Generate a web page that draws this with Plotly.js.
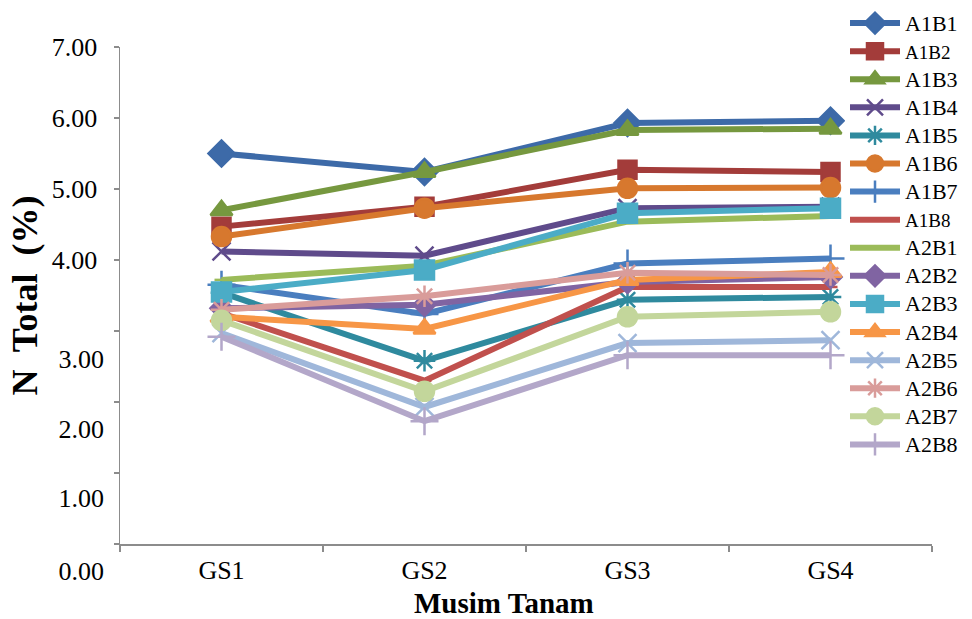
<!DOCTYPE html>
<html>
<head>
<meta charset="utf-8">
<script src="https://cdn.plot.ly/plotly-3.0.1.min.js"></script>
<style>html,body{margin:0;padding:0;background:#fff;}#chart{width:972px;height:619px;}</style>
</head>
<body>
<div id="chart"></div>
<script>
// ---- data ----
const categories = ['GS1', 'GS2', 'GS3', 'GS4'];
const A1B1 = [5.50, 5.24, 5.93, 5.96];
const A1B2 = [4.47, 4.75, 5.27, 5.24];
const A1B3 = [4.70, 5.24, 5.83, 5.85];
const A1B4 = [4.12, 4.06, 4.73, 4.75];
const A1B5 = [3.54, 2.58, 3.44, 3.48];
const A1B6 = [4.33, 4.73, 5.01, 5.02];
const A1B7 = [3.65, 3.24, 3.95, 4.02];
const A1B8 = [3.25, 2.30, 3.62, 3.62];
const A2B1 = [3.72, 3.92, 4.54, 4.62];
const A2B2 = [3.32, 3.37, 3.69, 3.76];
const A2B3 = [3.55, 3.86, 4.66, 4.73];
const A2B4 = [3.20, 3.03, 3.72, 3.83];
const A2B5 = [2.97, 1.93, 2.83, 2.87];
const A2B6 = [3.30, 3.49, 3.82, 3.79];
const A2B7 = [3.15, 2.15, 3.20, 3.27];
const A2B8 = [2.92, 1.73, 2.66, 2.66];
const seriesNames = ['A1B1','A1B2','A1B3','A1B4','A1B5','A1B6','A1B7','A1B8',
                     'A2B1','A2B2','A2B3','A2B4','A2B5','A2B6','A2B7','A2B8'];
const seriesValues = [A1B1,A1B2,A1B3,A1B4,A1B5,A1B6,A1B7,A1B8,
                      A2B1,A2B2,A2B3,A2B4,A2B5,A2B6,A2B7,A2B8];
const yTickVals = [0, 1, 2, 3, 4, 5, 6, 7];
const yTickTextUpper = ['', '', '', '', '4.00', '5.00', '6.00', '7.00'];
const yTickTextLower = ['3.00', '2.00', '1.00', '0.00'];

// ---- styles ----
const colors = ['#3d6aa8','#a33c3a','#76983f','#5f4b8b','#2f8a9e','#d7782e','#4a7ebf','#c0504d',
                '#9bbb59','#8064a2','#4bacc6','#f79646','#9fb7da','#d99c9a','#c3d69b','#b3a7c9'];
const symbols = ['diamond','square','triangle-up','x-thin','asterisk','circle','cross-thin','line-ew',
                 'line-ew','diamond','square','triangle-up','x-thin','asterisk','circle','cross-thin'];
const sizes = [20,18,19,18,18,19,20,10, 10,17,19,19,18,18,19,20];
const legendTextSizes = [22,19,22,22,22,22,22,19, 22,22,22,22,22,22,22,22];

const FONT = '"Liberation Serif", "Times New Roman", Times, serif';

const traces = seriesNames.map((name, i) => ({
  type: 'scatter',
  mode: 'lines+markers',
  name: '<span style="font-size:' + legendTextSizes[i] + 'px">' + name + '</span>',
  x: categories,
  y: seriesValues[i],
  line: {color: colors[i], width: 6},
  marker: {symbol: symbols[i], size: sizes[i], color: colors[i],
           line: {color: colors[i], width: 2.5}},
  xaxis: 'x', yaxis: 'y'
}));
// carrier for the lower tick labels axis
traces.push({type: 'scatter', x: [], y: [], xaxis: 'x', yaxis: 'y2', showlegend: false, hoverinfo: 'skip'});

// pixel frame
const H = 619;
const areaTop = 4, areaBottom = 600;           // plotting area incl. legend room
const axisTop = 47, axisBottom = 544;          // y axis 7.00 ... 0.00
const areaH = areaBottom - areaTop;
const frac = p => (areaBottom - p) / areaH;
const pxPerUnit = (axisBottom - axisTop) / 7;
// label positions of the lower ticks as they appear in the reference (shifted down)
const lowerLabelPx = [359, 429, 497.5, 571];
const lowerTickVals = lowerLabelPx.map(p => 7 - (p - axisTop) / pxPerUnit);

const layout = {
  width: 972, height: H,
  margin: {l: 120, r: 40, t: areaTop, b: H - areaBottom},
  paper_bgcolor: '#ffffff',
  plot_bgcolor: 'rgba(0,0,0,0)',
  font: {family: FONT, color: '#000'},
  showlegend: true,
  legend: {
    x: (845 - 120) / 812, y: 1,
    xanchor: 'left', yanchor: 'top',
    bgcolor: '#ffffff', borderwidth: 0,
    font: {family: FONT, size: 19.3, color: '#000'},
    itemwidth: 50, tracegroupgap: 0
  },
  xaxis: {
    type: 'category', range: [-0.5, 3.5], anchor: 'y',
    tickson: 'boundaries', ticks: 'outside', ticklen: 6, tickcolor: '#8c8c8c', tickwidth: 1.5,
    showline: true, linecolor: '#8c8c8c', linewidth: 1.5,
    showgrid: false, zeroline: false,
    tickfont: {family: FONT, size: 26, color: '#000'},
    ticklabelstandoff: 2
  },
  yaxis: {
    range: [0, 7], domain: [frac(axisBottom), frac(axisTop)],
    anchor: 'x',
    tickmode: 'array', tickvals: yTickVals, ticktext: yTickTextUpper,
    ticks: 'outside', ticklen: 5, tickcolor: '#8c8c8c', tickwidth: 1.5,
    showline: true, linecolor: '#8c8c8c', linewidth: 1.5,
    showgrid: false, zeroline: false,
    tickfont: {family: FONT, size: 26, color: '#000'},
    ticklabelstandoff: 11,
    title: {text: '<b>N\u00a0 Total\u00a0 (%)</b>', font: {family: FONT, size: 36, color: '#000'}, standoff: 3}
  },
  yaxis2: {
    range: [7 - (areaBottom - axisTop) / pxPerUnit, 7], domain: [0, frac(axisTop)],
    anchor: 'free', position: 0, side: 'left',
    tickmode: 'array', tickvals: lowerTickVals, ticktext: yTickTextLower,
    ticks: '', showline: false, showgrid: false, zeroline: false,
    tickfont: {family: FONT, size: 26, color: '#000'},
    ticklabelstandoff: 16
  },
  annotations: [{
    text: '<b>Musim Tanam</b>', xref: 'paper', yref: 'paper',
    x: (504 - 120) / 812, y: frac(603),
    xanchor: 'center', yanchor: 'middle', showarrow: false,
    font: {family: FONT, size: 29, color: '#000'}
  }]
};

Plotly.newPlot('chart', traces, layout, {staticPlot: true, displayModeBar: false});
</script>
</body>
</html>
